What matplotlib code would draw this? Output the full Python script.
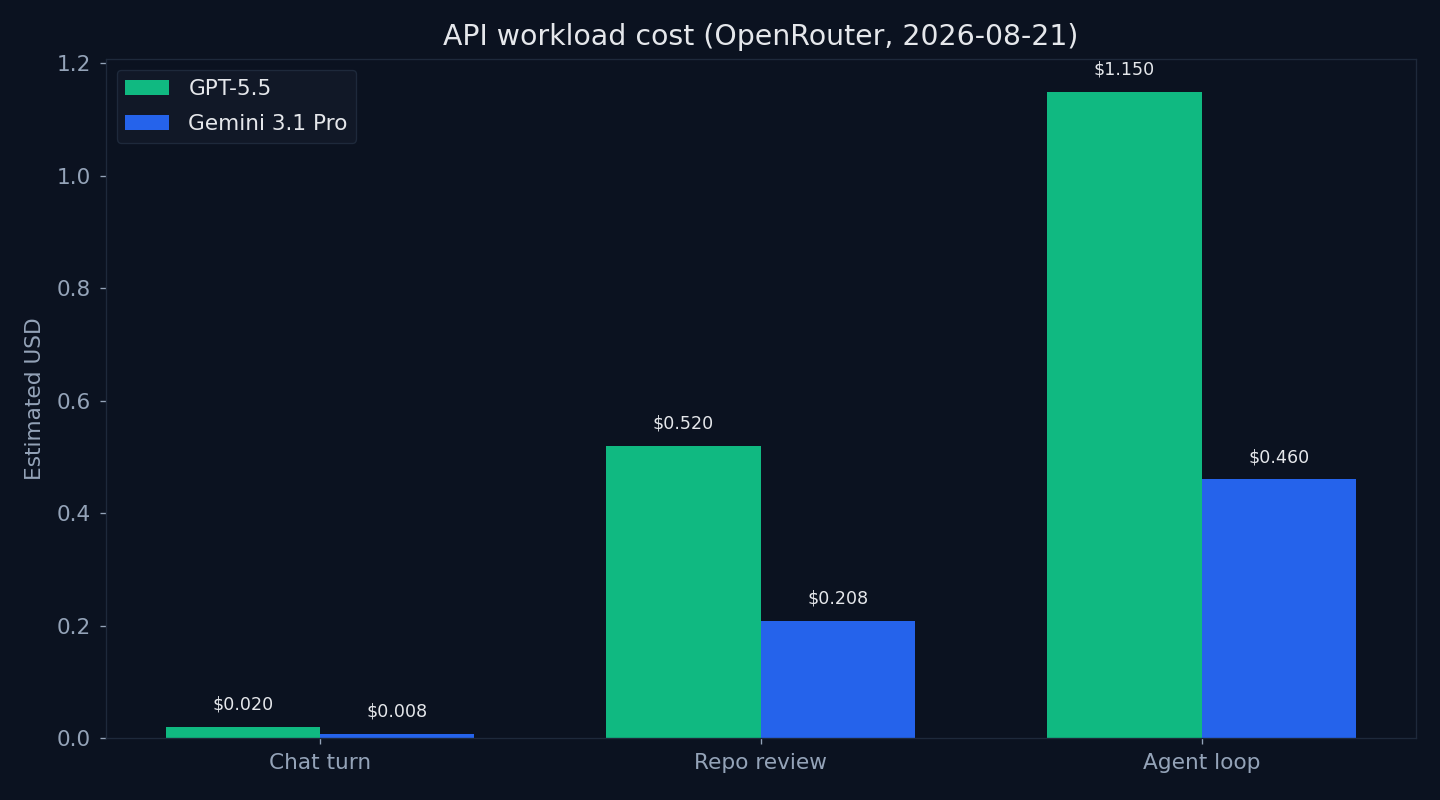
import matplotlib
matplotlib.use("Agg")
import matplotlib.pyplot as plt
import numpy as np

categories = ["Chat turn", "Repo review", "Agent loop"]
gpt_values = [0.020, 0.520, 1.150]
gemini_values = [0.008, 0.208, 0.460]
series_names = ["GPT-5.5", "Gemini 3.1 Pro"]

BG = "#0b1220"
GREEN = "#10b981"
BLUE = "#2563eb"
SPINE = "#1e293b"
TICK = "#94a3b8"
TEXT = "#e5e7eb"

S = 1.2  # scale factor

plt.rcParams['font.family'] = ['DejaVu Sans']
fig, ax = plt.subplots(figsize=(14.4, 8.0), dpi=100)
fig.patch.set_facecolor(BG)
ax.set_facecolor(BG)
fig.subplots_adjust(left=0.0736, right=0.983, top=0.926, bottom=0.0775)

x = np.arange(len(categories))
w = 0.35
b1 = ax.bar(x - w/2, gpt_values, w, color=GREEN, label=series_names[0])
b2 = ax.bar(x + w/2, gemini_values, w, color=BLUE, label=series_names[1])

for bars in (b1, b2):
    ax.bar_label(bars, labels=[f"${v:.3f}" for v in bars.datavalues],
                 padding=9.5, color=TEXT, fontsize=10.5 * S)

ax.set_xticks(x)
ax.set_xticklabels(categories)
ax.tick_params(colors=TICK, labelsize=13 * S, width=0.8 * S, length=4.5, pad=6.5)
for s in ax.spines.values():
    s.set_color(SPINE)
    s.set_linewidth(0.8 * S)
ax.set_ylabel("Estimated USD", color=TICK, fontsize=13 * S, labelpad=8)
ax.set_title("API workload cost (OpenRouter, 2026-08-21)", color=TEXT, fontsize=17 * S, pad=10)

leg = ax.legend(loc="upper left", fontsize=13 * S, facecolor="#111827", edgecolor=SPINE,
                framealpha=1, borderaxespad=0.5, handlelength=2.0, handleheight=0.7,
                labelspacing=0.7, handletextpad=0.9)
leg.get_frame().set_linewidth(0.8 * S)
for t in leg.get_texts():
    t.set_color(TEXT)

fig.savefig("out.png", dpi=100, facecolor=BG)
